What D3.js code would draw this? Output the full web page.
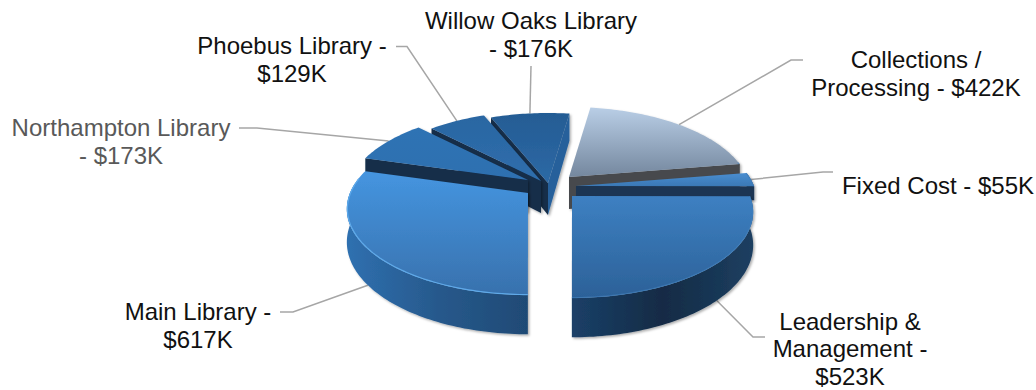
<!DOCTYPE html>
<html>
<head>
<meta charset="utf-8">
<script src="https://cdn.jsdelivr.net/npm/d3@7/dist/d3.min.js"></script>
<style>
  html, body { margin: 0; padding: 0; background: #fff; }
  svg { display: block; }
  text { font-family: "Liberation Sans", Arial, sans-serif; font-size: 24px; }
</style>
</head>
<body>
<svg id="chart" width="1036" height="390"></svg>
<script>
// Budget by cost centre, in thousands of dollars, clockwise from the top.
const categories = ["Collections / Processing", "Fixed Cost", "Leadership & Management",
                    "Main Library", "Northampton Library", "Phoebus Library", "Willow Oaks Library"];
const budgetK = [422, 55, 523, 617, 173, 129, 176];

// Wrapped label lines for each slice.
const labelLines = [
  ["Collections /", "Processing - $422K"],
  ["Fixed Cost - $55K"],
  ["Leadership &", "Management -", "$523K"],
  ["Main Library -", "$617K"],
  ["Northampton Library", "- $173K"],
  ["Phoebus Library -", "$129K"],
  ["Willow Oaks Library", "- $176K"]
];
const labelColors = ["#111", "#111", "#111", "#111", "#595959", "#111", "#111"];
const labelX = [916, 938, 850, 198, 121, 292, 531];
const labelBaseline = [68, 194, 329.5, 320, 136, 54, 29];
const labelLeading = [28, 28, 27.5, 28, 28, 28, 28];
// Leader line elbows, running from the label towards the slice.
const leaderElbows = [
  [[803, 60], [791, 60]],
  [[833, 172], [823, 172]],
  [[765, 337], [753, 337]],
  [[280, 312], [293, 312]],
  [[239, 128], [257, 128]],
  [[396, 46.5], [407, 46.5]],
  [[531, 66]]
];

// Pie rim colours: top face gradient, outer wall gradient, radial wall colour.
const topStops = [
  ["#b9cee6", "#74879e"], ["#4a8ed0", "#3a78b6"], ["#3d80c2", "#2c6198"],
  ["#4595e0", "#3871ad"], ["#2f73b4", "#2f70b0"], ["#2a66a2", "#2f6eac"], ["#245c94", "#2d69a5"]
];
const wallStops = [
  ["#46494e", "#46494e", "#46494e"], ["#1c3452", "#1c3452", "#1c3452"],
  ["#1b4068", "#122b45", "#1d3f61"], ["#2f70b0", "#27598c", "#1f4a75"],
  ["#173553", "#173553", "#173553"], ["#15314f", "#15314f", "#15314f"], ["#173655", "#173655", "#173655"]
];
const edgeColors = ["#46494e", "#1c3452", "#1b3f63", "#1f4a75", "#132d4a", "#132d4a", "#132d4a"];
const faceWallColors = ["#46494e", "#1c3452", "#1b3f63", "#1f4a75", "#132d4a", "#132d4a", "#28619b"];

// Position of each exploded slice's apex on the page, and its wall height.
const apexX = [569, 576, 572, 528, 528, 541, 548];
const apexY = [177, 186, 196, 193, 180, 181, 183];
const wallDepth = [32, 14, 32, 32, 32, 32, 32];

const radiusX = 178, radiusY = 83, perspective = 0.186;
const startRotation = 8.2 * Math.PI / 180;
const paintOrder = [6, 5, 4, 0, 1, 2, 3];

const svg = d3.select("#chart");
const defs = svg.append("defs");

const shadow = defs.append("filter").attr("id", "soft-shadow")
  .attr("x", "-5%").attr("y", "-5%").attr("width", "110%").attr("height", "112%");
shadow.append("feDropShadow").attr("dx", 1.5).attr("dy", 1.5)
  .attr("stdDeviation", 1).attr("flood-color", "#000").attr("flood-opacity", 0.32);

const pie = d3.pie().sort(null)
  .startAngle(startRotation).endAngle(startRotation + 2 * Math.PI);
const slices = pie(budgetK);

// Tilted pie with a vanishing point: the far rim shrinks, the near rim grows.
function project(i, angle, radial, lowered) {
  const s = 1 / (1 + perspective * radial * Math.cos(angle));
  return [
    apexX[i] + radiusX * radial * Math.sin(angle) * s,
    apexY[i] - radiusY * radial * Math.cos(angle) * s + (lowered ? wallDepth[i] * s : 0)
  ];
}

function arcAngles(a0, a1) {
  const n = Math.max(2, Math.ceil((a1 - a0) / 0.02));
  return d3.range(n + 1).map(k => a0 + (a1 - a0) * k / n);
}

const pathOf = d3.line();

function gradient(id, stops, horizontal) {
  const g = defs.append("linearGradient").attr("id", id)
    .attr("x1", 0).attr("y1", 0)
    .attr("x2", horizontal ? 1 : 0).attr("y2", horizontal ? 0 : 1);
  stops.forEach((c, k) => g.append("stop")
    .attr("offset", k / (stops.length - 1)).attr("stop-color", c));
}

categories.forEach((c, i) => {
  gradient("top-" + i, topStops[i], false);
  gradient("wall-" + i, wallStops[i], true);
});

const leaders = svg.append("g");
const pieGroup = svg.append("g");

paintOrder.forEach(i => {
  const s = slices[i];
  const g = pieGroup.append("g").attr("filter", "url(#soft-shadow)");
  const a0 = s.startAngle, a1 = s.endAngle;

  // Radial walls, only on the sides that turn towards the viewer.
  if (Math.sin(a0) < 0) {
    g.append("path")
      .attr("d", pathOf([project(i, a0, 0, false), project(i, a0, 1, false),
                         project(i, a0, 1, true), project(i, a0, 0, true)]) + "Z")
      .attr("fill", edgeColors[i]);
  }
  if (Math.sin(a1) > 0) {
    g.append("path")
      .attr("d", pathOf([project(i, a1, 0, false), project(i, a1, 1, false),
                         project(i, a1, 1, true), project(i, a1, 0, true)]) + "Z")
      .attr("fill", faceWallColors[i]);
  }

  // Outer rim wall along the near half of the pie.
  const rim = arcAngles(a0, a1).filter(a => Math.cos(a) < perspective);
  if (rim.length > 1) {
    const upper = rim.map(a => project(i, a, 1, false));
    const lower = rim.map(a => project(i, a, 1, true)).reverse();
    g.append("path").attr("d", pathOf(upper.concat(lower)) + "Z")
      .attr("fill", `url(#wall-${i})`);
  }

  // Top face.
  const outline = [project(i, a0, 0, false)].concat(arcAngles(a0, a1).map(a => project(i, a, 1, false)));
  g.append("path").attr("d", pathOf(outline) + "Z").attr("fill", `url(#top-${i})`);

  // Light catching the near rim.
  if (rim.length > 1) {
    g.append("path").attr("d", pathOf(rim.map(a => project(i, a, 0.997, false))))
      .attr("fill", "none").attr("stroke", i === 3 ? "#62aeee" : "#3f7fbd")
      .attr("stroke-opacity", i === 3 ? 0.9 : 0.6).attr("stroke-width", 1.2);
  }
});

// Leader lines run from each label to the rim at the slice's mid-angle.
slices.forEach((s, i) => {
  const mid = (s.startAngle + s.endAngle) / 2;
  const anchor = project(i, mid, 1, Math.cos(mid) < 0);
  leaders.append("path")
    .attr("d", pathOf(leaderElbows[i].concat([anchor])))
    .attr("fill", "none").attr("stroke", "#a6a6a6").attr("stroke-width", 1.5);
});

// Slice labels.
const labels = svg.append("g").attr("text-anchor", "middle");
labelLines.forEach((lines, i) => {
  lines.forEach((line, k) => {
    labels.append("text")
      .attr("x", labelX[i]).attr("y", labelBaseline[i] + k * labelLeading[i])
      .attr("fill", labelColors[i]).text(line);
  });
});
</script>
</body>
</html>
